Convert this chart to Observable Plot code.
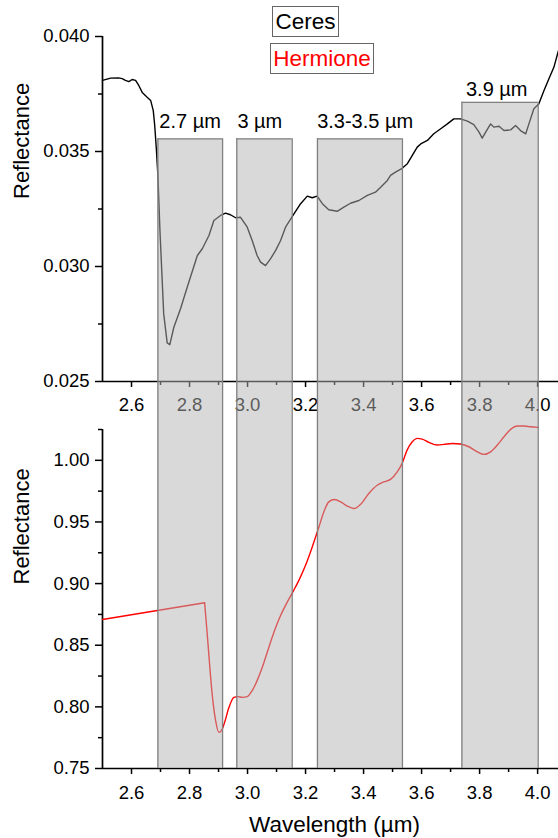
<!DOCTYPE html>
<html><head><meta charset="utf-8">
<script src="https://cdn.jsdelivr.net/npm/d3@7"></script>
<script src="https://cdn.jsdelivr.net/npm/@observablehq/plot@0.6"></script>
<style>
body{margin:0;background:#fff;font-family:"Liberation Sans",Arial,sans-serif;}
#chart{position:relative;width:558px;height:838px;overflow:hidden;background:#fff;}
#chart svg{position:absolute;left:0;overflow:visible;}
.leg{position:absolute;box-sizing:border-box;border:1px solid #666;font-size:22.5px;text-align:center;line-height:29px;background:#fff;white-space:nowrap;}
</style></head><body><div id="chart"></div>
<script>
// ---- data ----
const ceresX = [2.500,2.528,2.555,2.568,2.579,2.591,2.602,2.614,2.625,2.637,
2.654,2.666,2.675,2.680,2.686,2.691,2.698,2.711,2.723,2.732,
2.746,2.769,2.792,2.827,2.844,2.867,2.884,2.907,2.924,2.941,
2.959,2.976,2.999,3.016,3.033,3.045,3.062,3.079,3.097,3.114,
3.131,3.160,3.183,3.206,3.223,3.240,3.258,3.280,3.309,3.332,
3.355,3.384,3.413,3.441,3.459,3.482,3.493,3.510,3.533,3.551,
3.568,3.585,3.597,3.620,3.642,3.666,3.689,3.711,3.734,3.758,
3.780,3.798,3.809,3.821,3.838,3.849,3.867,3.884,3.907,3.924,
3.941,3.959,3.970,3.987,4.004,4.022,4.039,4.056,4.072];
const ceresY = [0.03809,0.03819,0.03820,0.03817,0.03809,0.03804,0.03813,0.03809,0.03787,0.03757,
0.03736,0.03722,0.03678,0.03613,0.03504,0.03396,0.03157,0.02794,0.02668,0.02660,
0.02736,0.02816,0.02910,0.03048,0.03077,0.03135,0.03200,0.03222,0.03232,0.03225,
0.03212,0.03214,0.03171,0.03113,0.03048,0.03019,0.03004,0.03033,0.03070,0.03113,
0.03171,0.03229,0.03273,0.03306,0.03299,0.03306,0.03273,0.03247,0.03240,0.03258,
0.03275,0.03287,0.03309,0.03323,0.03345,0.03374,0.03396,0.03410,0.03427,0.03447,
0.03483,0.03519,0.03533,0.03548,0.03577,0.03599,0.03620,0.03642,0.03642,0.03632,
0.03617,0.03584,0.03558,0.03584,0.03620,0.03606,0.03610,0.03591,0.03594,0.03613,
0.03591,0.03577,0.03620,0.03686,0.03707,0.03765,0.03816,0.03866,0.03939];
const hermX = [2.500,2.852,2.861,2.870,2.878,2.890,2.901,2.910,2.921,2.936,
2.953,2.967,2.982,2.999,3.016,3.033,3.051,3.068,3.085,3.102,
3.114,3.131,3.154,3.177,3.200,3.223,3.246,3.263,3.280,3.300,
3.321,3.344,3.367,3.390,3.418,3.447,3.470,3.493,3.516,3.533,
3.550,3.568,3.585,3.602,3.625,3.654,3.677,3.706,3.734,3.763,
3.792,3.815,3.838,3.861,3.884,3.907,3.930,3.953,3.976,4.001];
const hermY = [0.8709,0.8845,0.8593,0.8321,0.8105,0.7888,0.7793,0.7807,0.7874,0.7996,
0.8077,0.8083,0.8077,0.8083,0.8132,0.8213,0.8321,0.8443,0.8565,0.8674,
0.8741,0.8823,0.8923,0.9026,0.9148,0.9297,0.9459,0.9581,0.9663,0.9682,
0.9663,0.9628,0.9609,0.9644,0.9731,0.9798,0.9825,0.9845,0.9906,0.9975,
1.0083,1.0150,1.0178,1.0172,1.0146,1.0124,1.0129,1.0137,1.0132,1.0110,
1.0069,1.0048,1.0069,1.0124,1.0191,1.0251,1.0278,1.0278,1.0272,1.0267];

const bandNames = ["2.7 µm", "3 µm", "3.3-3.5 µm", "3.9 µm"];
const bandStart = [2.691, 2.963, 3.241, 3.739];
const bandEnd   = [2.914, 3.154, 3.534, 4.002];
const bandTop   = [0.03555, 0.03555, 0.03555, 0.03714];
const labelX    = [2.696, 2.965, 3.240, 3.753];
const labelY    = [0.03604, 0.03604, 0.03604, 0.03743];

const xDomain = [2.5, 4.072];
const xTicks = [2.6, 2.8, 3.0, 3.2, 3.4, 3.6, 3.8, 4.0];
const xMinor = [2.7, 2.9, 3.1, 3.3, 3.5, 3.7, 3.9];
const topDomain = [0.025, 0.040];
const topTicks = [0.025, 0.030, 0.035, 0.040];
const topMinor = [0.0275, 0.0325, 0.0375];
const botDomain = [0.75, 1.025];
const botTicks = [0.75, 0.80, 0.85, 0.90, 0.95, 1.00];
const botMinor = [0.775, 0.825, 0.875, 0.925, 0.975, 1.025];

const seriesNames = ["Ceres", "Hermione"];
const seriesColors = ["#000000", "#ff0000"];
const yTitle = "Reflectance";
const xTitle = "Wavelength (µm)";

// ---- build ----
const W = 558;
const font = "'Liberation Sans', Arial, Helvetica, sans-serif";
const topH = 429, topMT = 36, topMB = 48;
const botH = 409, botMT = 0, botMB = 70;
const seam = d3.scaleLinear().domain(topDomain).range([topH - topMB, topMT]).invert(topH);

const bands = bandNames.map((name, i) => ({name, x1: bandStart[i], x2: bandEnd[i], top: bandTop[i], seam, lx: labelX[i], ly: labelY[i], b0: botDomain[0], b1: botDomain[1]}));
const edges = bands.flatMap(d => [{x: d.x1, top: d.top, seam}, {x: d.x2, top: d.top, seam}]);
const ceres = ceresX.map((x, i) => ({x, y: ceresY[i]}));
const herm = hermX.map((x, i) => ({x, y: hermY[i]}));
const hermFlat = herm.slice(0, 2);   // straight segment before the drop
const hermCurve = herm.slice(1);     // smooth part

const fillC = "#b4b4b4", fillO = 0.5, edgeC = "#808080";
const tickFS = 18.5;
const svgStyle = `font-family:${font};font-size:${tickFS}px;color:#000;background:transparent;overflow:visible;`;

const topPlot = Plot.plot({
  width: W, height: topH, marginTop: topMT, marginBottom: topMB, marginLeft: 102, marginRight: 0,
  style: svgStyle,
  x: {domain: xDomain}, y: {domain: topDomain},
  marks: [
    Plot.axisY({ticks: topTicks, tickFormat: d3.format(".3f"), tickSize: 7, tickPadding: 6, strokeWidth: 1.5, fontSize: tickFS, label: null}),
    Plot.axisY({ticks: topMinor, tickFormat: () => "", tickSize: 4, strokeWidth: 1.5, label: null}),
    Plot.axisX({ticks: xTicks, tickFormat: d3.format(".1f"), tickSize: 6, tickPadding: 10, strokeWidth: 1.5, fontSize: tickFS, label: null}),
    Plot.axisX({ticks: xMinor, tickFormat: () => "", tickSize: 4, strokeWidth: 1.5, label: null}),
    Plot.ruleX([xDomain[0]], {strokeWidth: 1.7}),
    Plot.ruleY([topDomain[0]], {strokeWidth: 1.7}),
    Plot.line(ceres, {x: "x", y: "y", stroke: seriesColors[0], strokeWidth: 1.4}),
    Plot.rect(bands, {x1: "x1", x2: "x2", y1: "top", y2: "seam", fill: fillC, fillOpacity: fillO}),
    Plot.ruleX(edges, {x: "x", y1: "top", y2: "seam", stroke: edgeC, strokeWidth: 1.3}),
    Plot.ruleY(bands, {y: "top", x1: "x1", x2: "x2", stroke: edgeC, strokeWidth: 1.3}),
    Plot.text(bands, {x: "lx", y: "ly", text: "name", textAnchor: "start", lineAnchor: "bottom", fontSize: 20}),
    Plot.text([yTitle], {frameAnchor: "left", rotate: -90, dx: -74, dy: -10, lineAnchor: "bottom", fontSize: 22})
  ]
});

const botPlot = Plot.plot({
  width: W, height: botH, marginTop: botMT, marginBottom: botMB, marginLeft: 102, marginRight: 0,
  style: svgStyle,
  x: {domain: xDomain}, y: {domain: botDomain},
  marks: [
    Plot.axisY({ticks: botTicks, tickFormat: d3.format(".2f"), tickSize: 7, tickPadding: 6, strokeWidth: 1.5, fontSize: tickFS, label: null}),
    Plot.axisY({ticks: botMinor, tickFormat: () => "", tickSize: 4, strokeWidth: 1.5, label: null}),
    Plot.axisX({ticks: xTicks, tickFormat: d3.format(".1f"), tickSize: 6, tickPadding: 11, strokeWidth: 1.5, fontSize: tickFS, label: null}),
    Plot.axisX({ticks: xMinor, tickFormat: () => "", tickSize: 4, strokeWidth: 1.5, label: null}),
    Plot.ruleX([xDomain[0]], {strokeWidth: 1.7}),
    Plot.ruleY([botDomain[0]], {strokeWidth: 1.7}),
    Plot.line(hermFlat, {x: "x", y: "y", stroke: seriesColors[1], strokeWidth: 1.4}),
    Plot.line(hermCurve, {x: "x", y: "y", stroke: seriesColors[1], strokeWidth: 1.4, curve: "monotone-x"}),
    Plot.rect(bands, {x1: "x1", x2: "x2", y1: "b0", y2: "b1", fill: fillC, fillOpacity: fillO}),
    Plot.ruleX(edges, {x: "x", stroke: edgeC, strokeWidth: 1.3}),
    Plot.text([yTitle], {frameAnchor: "left", rotate: -90, dx: -74, dy: -14.5, lineAnchor: "bottom", fontSize: 22}),
    Plot.text([xTitle], {frameAnchor: "bottom", dx: 4, dy: 63, lineAnchor: "bottom", fontSize: 22.5})
  ]
});

const chart = document.getElementById("chart");
botPlot.style.top = topH + "px";
topPlot.style.top = "0px";
chart.appendChild(botPlot);
chart.appendChild(topPlot);

// legend
const legPos = [{left: 272, top: 6, width: 67}, {left: 270, top: 43, width: 104}];
seriesNames.forEach((n, i) => {
  const d = document.createElement("div");
  d.className = "leg";
  d.textContent = n;
  d.style.color = seriesColors[i];
  d.style.left = legPos[i].left + "px";
  d.style.top = legPos[i].top + "px";
  d.style.width = legPos[i].width + "px";
  d.style.height = "31px";
  chart.appendChild(d);
});
</script></body></html>
